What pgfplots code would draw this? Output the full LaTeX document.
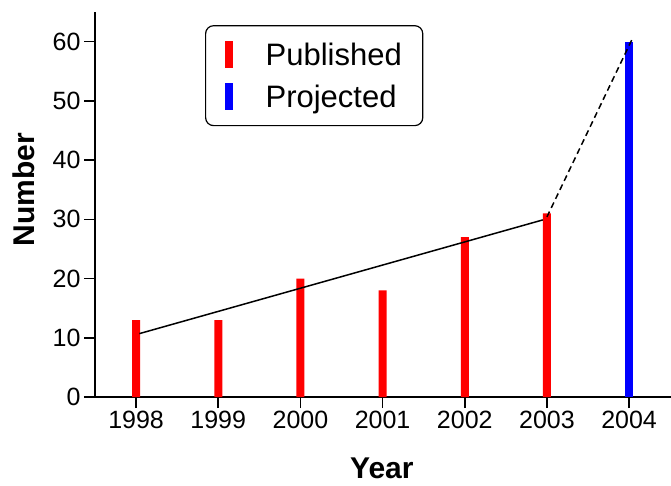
\documentclass[border=0pt]{standalone}
\usepackage{pgfplots}
\pgfplotsset{compat=1.18}
\usepackage{fontspec}
\setmainfont{Liberation Sans}
\begin{document}
\begin{tikzpicture}
\begin{axis}[
 scale only axis, width=576pt, height=385pt,
 xmin=1997.5, xmax=2004.51, ymin=0, ymax=65,
 axis x line*=bottom, axis y line*=left,
 x axis line style={shorten <=-11pt},
 axis line style={line width=1.6pt},
 tick align=outside, major tick length=11pt,
 tick style={line width=1.6pt, black},
 xtick={1998,1999,2000,2001,2002,2003,2004}, ytick={0,10,20,30,40,50,60},
 /pgf/number format/1000 sep={},
 /pgf/number format/assume math mode=true,
 tick label style={font=\fontsize{25}{30}\selectfont},
 xlabel={Year}, ylabel={Number},
 label style={font=\fontsize{30}{36}\selectfont\bfseries},
 xlabel style={at={(axis description cs:0.498,-0.186)}, anchor=center},
 ylabel style={at={(axis description cs:-0.123,0.538)}, anchor=center},
 legend style={at={(axis description cs:0.191,0.966)}, anchor=north west,
   rounded corners=8pt, draw=black, line width=1.2pt,
   font=\fontsize{31}{36}\selectfont, row sep=14pt, inner xsep=19pt, inner ysep=15pt},
 legend cell align=left,
 clip=false,
]
\addplot[ybar, bar width=8pt, bar shift=0pt, fill=red, draw=none,
  legend image code/.code={\fill[red, sharp corners] (0pt,-13.5pt) rectangle (8pt,13.5pt);}]
  coordinates {(1998,13) (1999,13) (2000,20) (2001,18) (2002,27) (2003,31)};
\addlegendentry{\hspace{31pt}Published}
\addplot[ybar, bar width=8pt, bar shift=0pt, fill=blue, draw=none,
  legend image code/.code={\fill[blue, sharp corners] (0pt,-13.5pt) rectangle (8pt,13.5pt);}]
  coordinates {(2004,60)};
\addlegendentry{\hspace{31pt}Projected}
\addplot[black, line width=1.5pt, forget plot] coordinates {(1998.04,10.7) (2002.95,29.9)};
\addplot[black, line width=1.5pt, dash pattern=on 6pt off 4pt, forget plot] coordinates {(2003.0,30.4) (2004.05,60.8)};
\end{axis}
\pgfresetboundingbox
\path[use as bounding box] (-95pt,-88pt) rectangle (576pt,397pt);
\end{tikzpicture}
\end{document}
